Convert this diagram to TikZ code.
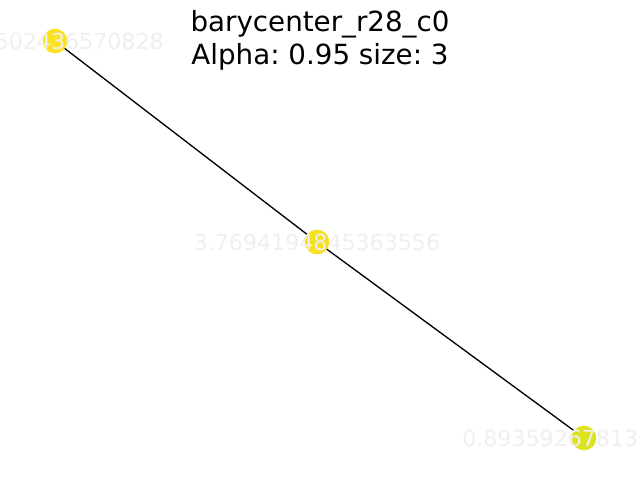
\documentclass[tikz,border=0pt]{standalone}
\usepackage{fontspec}
\setmainfont{DejaVu Sans}
\usepackage{tikz}
\usetikzlibrary{positioning,backgrounds}
\frenchspacing

\definecolor{vira}{HTML}{FBE324}
\definecolor{virb}{HTML}{F6E01F}
\definecolor{virc}{HTML}{DCE21D}
\definecolor{lblgray}{HTML}{EFEFEF}

\begin{document}
\begin{tikzpicture}[x=0.75pt,y=-0.75pt,
    dot/.style={circle,inner sep=0pt,minimum size=18.5pt},
    lbl/.style={text=lblgray,inner sep=0pt,font=\fontsize{16.6}{20}\selectfont},
    edge/.style={draw=black,line width=1pt}]
    % Ramme
    \useasboundingbox (0,0) rectangle (640,480);
    \clip (0,0) rectangle (640,480);
    % Punkter
    \node[dot,fill=vira] (a) at (55,41) {};
    \node[dot,fill=virb] (b) at (317,242) {};
    \node[dot,fill=virc] (c) at (584,438) {};
    % Kanter under punkterne
    \begin{scope}[on background layer]
      \draw[edge] (a.center) -- (b.center);
      \draw[edge] (b.center) -- (c.center);
    \end{scope}
    % Etiketter
    \node[lbl,anchor=east] (la) at (164,41) {502436570828};
    \node[lbl] (lb) at (b) {3.7694194845363556};
    \node[lbl,anchor=west] (lc) at (462,438) {0.893592678133};
    % Titel
    \node[anchor=north,inner sep=0pt,align=center,
      font=\fontsize{20.8}{24.8}\selectfont] (title) at (320,10)
      {barycenter\_r28\_c0\\Alpha: 0.95 size: 3};
\end{tikzpicture}
\end{document}
